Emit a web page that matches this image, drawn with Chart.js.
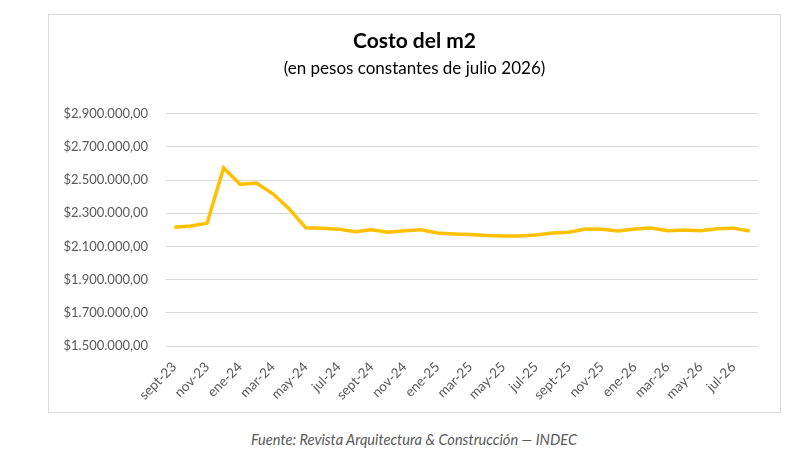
<!DOCTYPE html>
<html>
<head>
<meta charset="utf-8">
<script src="https://cdn.jsdelivr.net/npm/chart.js@4"></script>
<style>
  html, body { margin:0; padding:0; background:#fff; width:812px; height:452px; overflow:hidden; }
  #box { position:absolute; left:48px; top:14px; width:733px; height:399px; box-sizing:border-box; border:1px solid #d9d9d9; }
  #box canvas { display:block; }
  #foot { position:absolute; left:0; top:431px; width:828px; text-align:center; font-family:Lato, sans-serif; font-style:italic; font-size:14.6px; color:#595959; }
</style>
</head>
<body>
<div id="box"><canvas id="c" width="731" height="397"></canvas></div>
<div id="foot">Fuente: Revista Arquitectura &amp; Construcción — INDEC</div>
<script>
const months = ['sept-23','oct-23','nov-23','dic-23','ene-24','feb-24','mar-24','abr-24','may-24','jun-24','jul-24','ago-24',
  'sept-24','oct-24','nov-24','dic-24','ene-25','feb-25','mar-25','abr-25','may-25','jun-25','jul-25','ago-25',
  'sept-25','oct-25','nov-25','dic-25','ene-26','feb-26','mar-26','abr-26','may-26','jun-26','jul-26','ago-26'];
const costoM2 = [2215000,2223000,2240000,2573000,2475000,2481000,2417000,2325000,2212000,2210000,2204000,2188000,
  2200000,2186000,2194000,2200000,2181000,2175000,2171000,2165000,2163000,2163000,2169000,2181000,
  2185000,2205000,2203000,2193000,2205000,2211000,2195000,2199000,2195000,2207000,2210000,2193000];
const yTicks = [1500000,1700000,1900000,2100000,2300000,2500000,2700000,2900000];

const fmt = v => '$' + v.toLocaleString('de-DE', {minimumFractionDigits:2, maximumFractionDigits:2});

new Chart(document.getElementById('c'), {
  type: 'line',
  data: {
    labels: months,
    datasets: [{
      data: costoM2,
      borderColor: '#FFC000',
      borderWidth: 3.5,
      pointRadius: 0,
      tension: 0,
      fill: false
    }]
  },
  options: {
    responsive: false,
    animation: false,
    devicePixelRatio: 1,
    layout: { padding: { left: 0, right: 0, top: 0, bottom: 0 } },
    plugins: {
      legend: { display: false },
      tooltip: { enabled: false },
      title: { display: true, text: 'Costo del m2', color: '#000',
        font: { family: 'Lato', size: 21, weight: 'bold' }, padding: { top: 14, bottom: 4 } },
      subtitle: { display: true, text: '(en pesos constantes de julio 2026)', color: '#000',
        font: { family: 'Lato', size: 17 }, padding: { top: 0, bottom: 35 } }
    },
    scales: {
      x: {
        offset: true,
        grid: { display: false, drawTicks: false },
        border: { display: false },
        ticks: {
          autoSkip: false, maxRotation: 45, minRotation: 45, padding: 13,
          color: '#595959', font: { family: 'Lato', size: 13.5 },
          callback: function(v, i) { return i % 2 === 0 ? months[i] : ''; }
        },
        afterFit: s => { s.height = 66; }
      },
      y: {
        min: 1500000, max: 2900000,
        afterBuildTicks: s => { s.ticks = yTicks.map(v => ({ value: v })); },
        grid: { color: '#d9d9d9', drawTicks: false, lineWidth: 1 },
        border: { display: false },
        ticks: { padding: 18, color: '#595959', font: { family: 'Lato', size: 13 }, callback: v => fmt(v) },
        afterFit: s => { s.width = 117; }
      },
      yRightSpace: {
        position: 'right',
        display: true,
        grid: { display: false, drawTicks: false },
        border: { display: false },
        ticks: { display: false },
        afterFit: s => { s.width = 22; }
      }
    }
  }
});
</script>
</body>
</html>
